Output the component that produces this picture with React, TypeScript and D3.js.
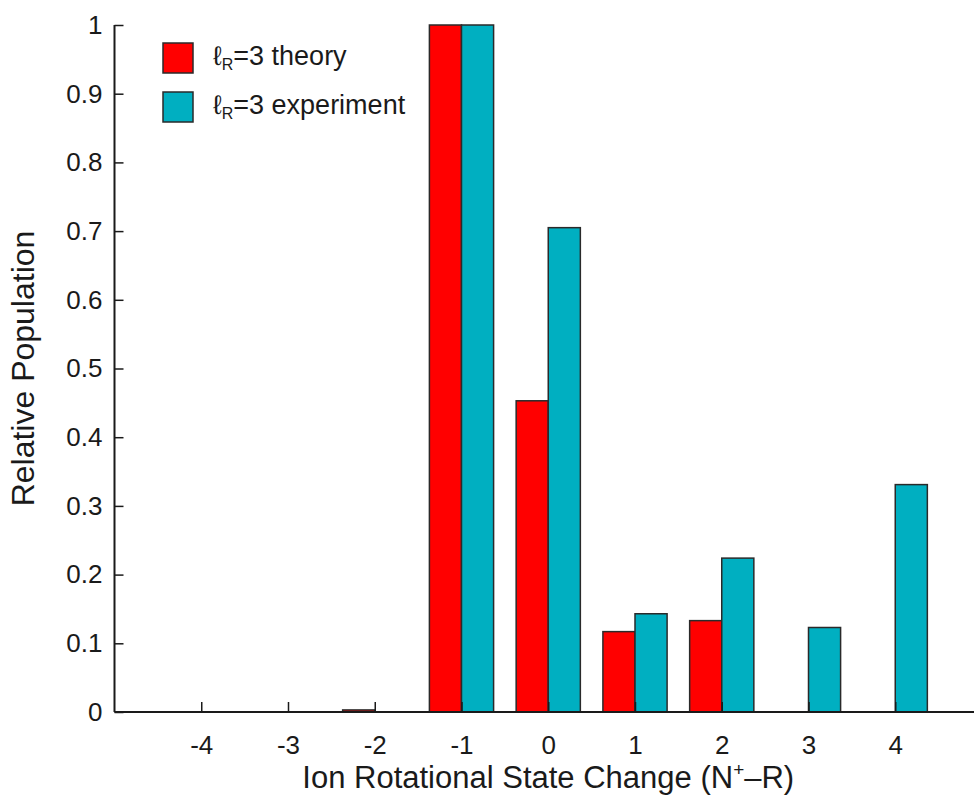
import React, { useEffect, useRef } from 'react';
import * as d3 from 'd3';

// rotational state change (N+ - R)
const categories = [-4, -3, -2, -1, 0, 1, 2, 3, 4];
// relative population, lR=3
const theory = [0, 0, 0.003, 1, 0.453, 0.117, 0.133, 0, 0];
const experiment = [0, 0, 0, 1, 0.705, 0.143, 0.224, 0.123, 0.331];
const yTicks = [0, 0.1, 0.2, 0.3, 0.4, 0.5, 0.6, 0.7, 0.8, 0.9, 1];
const seriesNames = ['theory', 'experiment'];

const RED = '#ff0000';
const CYAN = '#00afc1';
const FONT = '"Liberation Sans", Arial, Helvetica, sans-serif';

const App = () => {
  const ref = useRef<SVGSVGElement>(null);

  useEffect(() => {
    const svg = d3.select(ref.current);
    svg.selectAll('*').remove();

    // === scales ===
    const x = d3.scaleLinear().domain([-5, 5]).range([114.5, 982]);
    const y = d3.scaleLinear().domain([0, 1]).range([712, 25]);
    const barW = x(0.37) - x(0);

    // === bars ===
    const rows = categories.map((c, i) => ({ c, t: theory[i], e: experiment[i] }));
    const g = svg.append('g');

    g.selectAll('rect.theory')
      .data(rows.filter((d) => d.t > 0))
      .join('rect')
      .attr('class', 'theory')
      .attr('x', (d) => x(d.c) - barW)
      .attr('y', (d) => y(d.t))
      .attr('width', barW)
      .attr('height', (d) => y(0) - y(d.t))
      .attr('fill', RED)
      .attr('stroke', '#2a2a2a')
      .attr('stroke-width', 1.5);

    g.selectAll('rect.experiment')
      .data(rows.filter((d) => d.e > 0))
      .join('rect')
      .attr('class', 'experiment')
      .attr('x', (d) => x(d.c))
      .attr('y', (d) => y(d.e))
      .attr('width', barW)
      .attr('height', (d) => y(0) - y(d.e))
      .attr('fill', CYAN)
      .attr('stroke', '#2a2a2a')
      .attr('stroke-width', 1.5);

    // === x axis (ticks pointing inward) ===
    const xAxis = svg
      .append('g')
      .attr('transform', `translate(0,${y(0)})`)
      .call(
        d3
          .axisBottom(x)
          .tickValues(categories)
          .tickSize(-10)
          .tickPadding(24)
          .tickFormat((d) => `${d}`)
      );
    xAxis.select('.domain').attr('d', `M${x(-5)},0H${x(5)}`).attr('stroke', '#1a1a1a').attr('stroke-width', 2);
    xAxis.selectAll('line').attr('stroke', '#1a1a1a').attr('stroke-width', 1.5);
    xAxis.selectAll('text').attr('font-family', FONT).attr('font-size', 26).attr('fill', '#1a1a1a');

    // === y axis (ticks pointing inward) ===
    const yAxis = svg
      .append('g')
      .attr('transform', `translate(${x(-5)},0)`)
      .call(
        d3
          .axisLeft(y)
          .tickValues(yTicks)
          .tickSize(-9)
          .tickPadding(12)
          .tickFormat((d) => d3.format('~g')(d as number))
      );
    yAxis.select('.domain').attr('d', `M0,${y(0)}V${y(1)}`).attr('stroke', '#1a1a1a').attr('stroke-width', 2);
    yAxis.selectAll('line').attr('stroke', '#1a1a1a').attr('stroke-width', 1.5);
    yAxis.selectAll('text').attr('font-family', FONT).attr('font-size', 26).attr('fill', '#1a1a1a');

    // === axis titles ===
    const xt = svg
      .append('text')
      .attr('x', (x(-5) + x(5)) / 2)
      .attr('y', 788)
      .attr('text-anchor', 'middle')
      .attr('font-family', FONT)
      .attr('font-size', 31)
      .attr('fill', '#1a1a1a');
    xt.append('tspan').text('Ion Rotational State Change (N');
    xt.append('tspan').attr('font-size', 19).attr('dy', -12).text('+');
    xt.append('tspan').attr('dy', 12).text('–R)');

    svg
      .append('text')
      .attr('transform', `translate(34,${(y(0) + y(1)) / 2}) rotate(-90)`)
      .attr('text-anchor', 'middle')
      .attr('font-family', FONT)
      .attr('font-size', 32)
      .attr('fill', '#1a1a1a')
      .text('Relative Population');

    // === legend ===
    const legend = svg
      .append('g')
      .selectAll('g')
      .data(seriesNames)
      .join('g')
      .attr('transform', (_, i) => `translate(163,${43 + i * 49})`);
    legend
      .append('rect')
      .attr('width', 30)
      .attr('height', 30)
      .attr('fill', (_, i) => (i === 0 ? RED : CYAN))
      .attr('stroke', '#2a2a2a')
      .attr('stroke-width', 1.5);
    const lt = legend
      .append('text')
      .attr('x', 50)
      .attr('y', 22)
      .attr('font-family', FONT)
      .attr('font-size', 27)
      .attr('fill', '#1a1a1a');
    lt.append('tspan').text('ℓ');
    lt.append('tspan').attr('font-size', 16).attr('dy', 5).text('R');
    lt.append('tspan').attr('dy', -5).text((d) => `=3 ${d}`);
  }, []);

  return (
    <svg
      ref={ref}
      width={974}
      height={798}
      style={{ position: 'absolute', left: 0, top: 0, background: '#fff' }}
    ></svg>
  );
};

export default App;
